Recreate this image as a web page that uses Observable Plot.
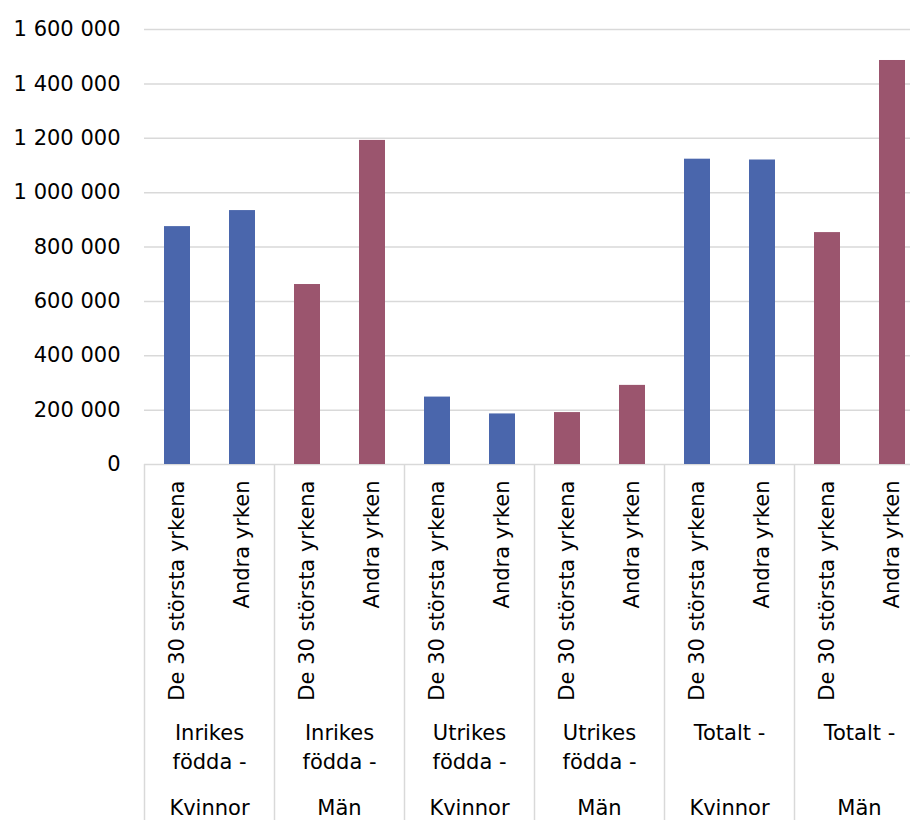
<!DOCTYPE html>
<html>
<head>
<meta charset="utf-8">
<script src="https://cdn.jsdelivr.net/npm/d3@7"></script>
<script src="https://cdn.jsdelivr.net/npm/@observablehq/plot@0.6"></script>
<style>
  html, body { margin: 0; padding: 0; background: #fff; }
  #chart { width: 910px; height: 820px; overflow: hidden; }
</style>
</head>
<body>
<div id="chart"></div>
<script>
// ---- data ----
const origin = ["Inrikes\nfödda -", "Inrikes\nfödda -", "Utrikes\nfödda -", "Utrikes\nfödda -", "Totalt -", "Totalt -"];
const sex = ["Kvinnor", "Män", "Kvinnor", "Män", "Kvinnor", "Män"];
const occupations = ["De 30 största yrkena", "Andra yrken"];
const top30 = [875000, 662000, 248000, 191000, 1123000, 853000];
const other = [934000, 1192000, 186000, 291000, 1120000, 1486000];
const yTicks = [0, 200000, 400000, 600000, 800000, 1000000, 1200000, 1400000, 1600000];
const sexColors = ["#4A66AC", "#9B556E"];

// ---- build table ----
const data = [];
sex.forEach((s, i) => {
  occupations.forEach((o, j) => {
    data.push({key: i + "|" + j, group: i, occ: o, sex: s, value: j === 0 ? top30[i] : other[i]});
  });
});
const keys = data.map(d => d.key);
const fmt = d3.formatLocale({decimal: ",", thousands: " ", grouping: [3], currency: ["", " kr"]}).format(",d");

const FONT = "DejaVu Sans";
const GRID = "#d9d9d9";

function groupLabels(index, scales, values, dimensions) {
  const x = scales.x;
  const step = x(keys[1]) - x(keys[0]);
  const bw = typeof x.bandwidth === "function" ? x.bandwidth() : step * 0.4;
  const gap = step - bw;
  const y0 = dimensions.height - dimensions.marginBottom;
  const H = dimensions.height;
  const g = d3.create("svg:g")
    .attr("font-family", FONT)
    .attr("font-size", 21)
    .attr("fill", "#000");
  sex.forEach((s, i) => {
    const left = x(i + "|0") - gap / 2;
    const right = x(i + "|1") + bw + gap / 2;
    const cx = (left + right) / 2;
    g.append("line").attr("x1", left).attr("x2", left).attr("y1", y0).attr("y2", H)
      .attr("stroke", GRID).attr("stroke-width", 1.5);
    if (i === sex.length - 1) {
      g.append("line").attr("x1", right).attr("x2", right).attr("y1", y0).attr("y2", H)
        .attr("stroke", GRID).attr("stroke-width", 1.5);
    }
    const lines = origin[i].split("\n");
    lines.forEach((ln, k) => {
      g.append("text").attr("x", cx).attr("y", y0 + 276 + k * 29)
        .attr("text-anchor", "middle").text(ln);
    });
    g.append("text").attr("x", cx).attr("y", y0 + 351)
      .attr("text-anchor", "middle").text(s);
  });
  return g.node();
}

const chart = Plot.plot({
  width: 910,
  height: 820,
  marginTop: 29,
  marginBottom: 356,
  marginLeft: 144,
  marginRight: 0,
  style: {fontFamily: FONT, fontSize: "21px", color: "#000", background: "#fff", overflow: "hidden"},
  x: {domain: keys, range: [144, 924], paddingInner: 0.6, paddingOuter: 0.3, axis: null},
  y: {domain: [0, 1600000]},
  color: {domain: ["Kvinnor", "Män"], range: sexColors},
  marks: [
    Plot.ruleY(yTicks, {stroke: GRID, strokeWidth: 1.5}),
    Plot.barY(data, {x: "key", y: "value", fill: "sex"}),
    Plot.axisY(yTicks, {tickSize: 0, tickPadding: 24, tickFormat: fmt, fontSize: 21, label: null, fill: "#000"}),
    Plot.text(data, {x: "key", text: "occ", frameAnchor: "bottom", rotate: -90, textAnchor: "end", lineAnchor: "middle", dy: 16, fontSize: 21, fill: "#000"}),
    groupLabels
  ]
});
document.getElementById("chart").appendChild(chart);
</script>
</body>
</html>
